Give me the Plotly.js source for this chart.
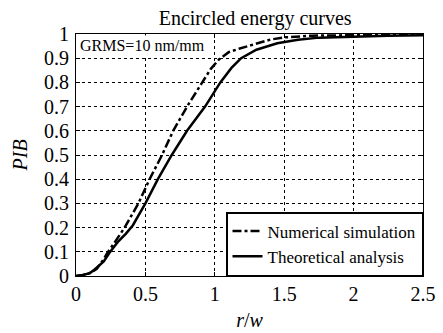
<!DOCTYPE html>
<html>
<head>
<meta charset="utf-8">
<script src="https://cdn.plot.ly/plotly-3.0.1.min.js"></script>
<style>html,body{margin:0;padding:0;background:#fff;}#chart{width:443px;height:333px;}</style>
</head>
<body>
<div id="chart"></div>
<script>
const simX = [0, 0.05, 0.1, 0.15, 0.2, 0.22, 0.28, 0.35, 0.45, 0.53, 0.62, 0.7, 0.8, 0.91, 0.97, 1.03, 1.1, 1.18, 1.25, 1.32, 1.4, 1.5, 1.6, 1.7, 1.85, 2.0, 2.3, 2.5];
const simY = [0, 0.004, 0.012, 0.03, 0.07, 0.09, 0.14, 0.2, 0.3, 0.4, 0.5, 0.6, 0.7, 0.8, 0.855, 0.895, 0.925, 0.94, 0.952, 0.965, 0.977, 0.986, 0.99, 0.993, 0.994, 0.995, 0.997, 0.998];
const theoX = [0, 0.05, 0.1, 0.13, 0.2, 0.24, 0.3, 0.36, 0.41, 0.5, 0.59, 0.69, 0.8, 0.93, 1.04, 1.12, 1.19, 1.3, 1.45, 1.6, 1.75, 2.0, 2.25, 2.5];
const theoY = [0, 0.004, 0.012, 0.025, 0.06, 0.095, 0.14, 0.175, 0.21, 0.3, 0.4, 0.5, 0.6, 0.7, 0.8, 0.86, 0.9, 0.935, 0.962, 0.976, 0.985, 0.99, 0.993, 0.995];
const xTicks = [0, 0.5, 1, 1.5, 2, 2.5];
const xTickText = ['0', '0.5', '1', '1.5', '2', '2.5'];
const yTicks = [0, 0.1, 0.2, 0.3, 0.4, 0.5, 0.6, 0.7, 0.8, 0.9, 1];
const yTickText = ['0', '0.1', '0.2', '0.3', '0.4', '0.5', '0.6', '0.7', '0.8', '0.9', '1'];

const font = 'Liberation Serif';
const traces = [
  {x: simX, y: simY, mode: 'lines', name: 'Numerical simulation', line: {color: '#000', width: 2.5, dash: 'dashdot'}},
  {x: theoX, y: theoY, mode: 'lines', name: 'Theoretical analysis', line: {color: '#000', width: 2.5}}
];
const axisCommon = {
  showline: true, linecolor: '#000', linewidth: 1, mirror: 'ticks',
  ticks: 'inside', ticklen: 4, tickcolor: '#000',
  showgrid: true, gridcolor: '#000', griddash: 'dot', gridwidth: 1,
  zeroline: false, tickfont: {family: font, size: 20, color: '#000'}
};
const layout = {
  width: 443, height: 333,
  margin: {l: 76, r: 20, t: 34, b: 57},
  paper_bgcolor: '#fff', plot_bgcolor: '#fff',
  font: {family: font, color: '#000'},
  title: {text: 'Encircled energy curves', font: {family: font, size: 20, color: '#000'}, x: 0.576, xanchor: 'center', y: 0.945, yanchor: 'middle'},
  xaxis: Object.assign({}, axisCommon, {range: [0, 2.5], tickvals: xTicks, ticktext: xTickText, ticklabelstandoff: 0,
    title: {text: '<i>r</i>/<i>w</i>', font: {family: font, size: 20, color: '#000'}, standoff: 8}}),
  yaxis: Object.assign({}, axisCommon, {range: [0, 1], tickvals: yTicks, ticktext: yTickText, ticklabelstandoff: 2}),
  showlegend: true,
  legend: {x: 1, xanchor: 'right', y: 0, yanchor: 'bottom', bgcolor: '#fff', bordercolor: '#000', borderwidth: 1.5,
    font: {family: font, size: 17, color: '#000'}, tracegroupgap: 0, itemwidth: 30},
  annotations: [
    {xref: 'paper', yref: 'paper', x: 0.005, y: 0.995, xanchor: 'left', yanchor: 'top', showarrow: false,
      text: 'GRMS=10 nm/mm', font: {family: font, size: 16, color: '#000'}, bgcolor: '#fff'},
    {xref: 'paper', yref: 'paper', x: -0.16, y: 0.5, xanchor: 'center', yanchor: 'middle', showarrow: false, textangle: -90,
      text: '<i>PIB</i>', font: {family: font, size: 20, color: '#000'}}
  ]
};
Plotly.newPlot('chart', traces, layout, {displayModeBar: false, staticPlot: true});
</script>
</body>
</html>
